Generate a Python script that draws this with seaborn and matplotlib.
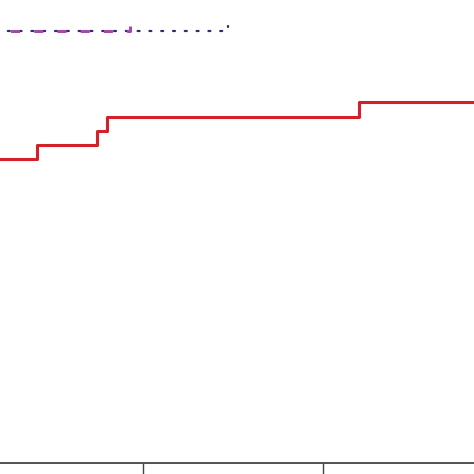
import matplotlib
matplotlib.use("Agg")
import matplotlib.pyplot as plt
import seaborn as sns
import pandas as pd

# Step-function data (time, cumulative value)
red_time = [0.0, 4.11, 7.44, 8.0, 22.0, 28.4]
red_value = [0.657, 0.687, 0.717, 0.747, 0.780, 0.780]

purple_time = [0.0, 9.28]
purple_value = [0.933, 0.944]

navy_time = [0.0, 14.72]
navy_value = [0.933, 0.944]

x_ticks = [10, 20]

sns.set_theme(style="white")

fig = plt.figure(figsize=(4.74, 4.74), dpi=100)
ax = fig.add_axes([0, 11 / 474, 1, 463 / 474])

red_df = pd.DataFrame({"time": red_time, "value": red_value})
purple_df = pd.DataFrame({"time": purple_time, "value": purple_value})
navy_df = pd.DataFrame({"time": navy_time, "value": navy_value})

sns.lineplot(data=red_df, x="time", y="value", ax=ax, color="#d42029",
             linewidth=2.2, drawstyle="steps-post", estimator=None, sort=False)
sns.lineplot(data=navy_df, x="time", y="value", ax=ax, color="#2c2f6b",
             linewidth=1.6, drawstyle="steps-post", estimator=None, sort=False,
             linestyle=(1.35, (0.9, 4.41)), dash_capstyle="round", zorder=2)
sns.lineplot(data=purple_df, x="time", y="value", ax=ax, color="#a24aa5",
             linewidth=2.2, drawstyle="steps-post", estimator=None, sort=False,
             linestyle=(3.83, (2.95, 4.65)), zorder=3)

ax.set_xlim(10 - 143 / 18, 10 + 331 / 18)
ax.set_ylim(0, 1)
ax.set_xticks(x_ticks)
ax.set_yticks([])
ax.set_xlabel("")
ax.set_ylabel("")
ax.tick_params(axis="x", direction="out", length=8, width=1.0, color="#444444",
               labelbottom=False, bottom=True)
for s in ["top", "left", "right"]:
    ax.spines[s].set_visible(False)
ax.spines["bottom"].set_color("#444444")
ax.spines["bottom"].set_linewidth(1.3)
ax.set_facecolor("white")

fig.savefig("out.png", dpi=100, facecolor="white")
